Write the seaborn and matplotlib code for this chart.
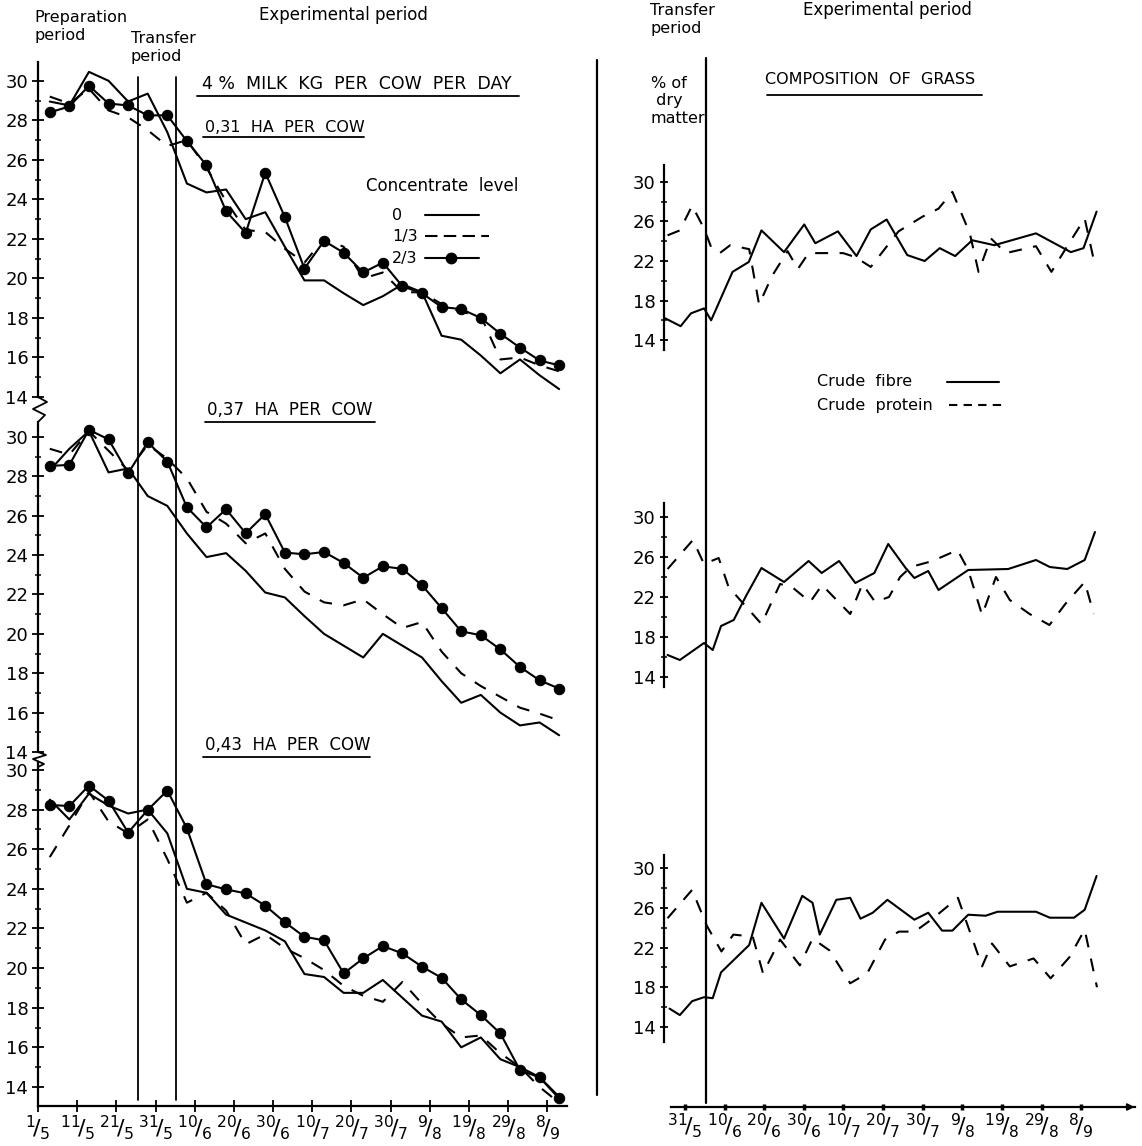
import matplotlib
matplotlib.use("Agg")
import matplotlib.pyplot as plt
from matplotlib.lines import Line2D
from matplotlib.ticker import FixedLocator
import seaborn as sns

# ---------------- data (days counted from 1 May) ----------------
milk_days = [3, 8, 13, 18, 23, 28, 33, 38, 43, 48, 53, 58, 63, 68, 73, 78, 83, 88,
             93, 98, 103, 108, 113, 118, 123, 128, 133]

# 0,31 ha per cow
ha031_conc0 = [28.95, 28.75, 30.45, 30.0, 28.95, 29.35, 27.4, 24.8, 24.35, 24.5, 23.0, 23.35, 21.6,
               19.9, 19.9, 19.25, 18.65, 19.1, 19.7, 19.3, 17.1, 16.9, 16.1, 15.2, 15.9, 15.1, 14.4]
ha031_conc13 = [29.2, 28.85, 29.6, 28.5, 28.15, 27.5, 26.7, 27.0, 25.6, 23.9, 22.45, 22.35, 21.5,
                20.8, 22.0, 21.6, 20.0, 20.3, 19.3, 19.3, 18.7, 18.3, 18.1, 15.9, 16.0, 15.6, 15.3]
ha031_conc23 = [28.4, 28.7, 29.75, 28.85, 28.75, 28.25, 28.25, 26.95, 25.72, 23.4, 22.3, 25.35, 23.1,
                20.5, 21.9, 21.3, 20.3, 20.8, 19.6, 19.25, 18.55, 18.45, 18.0, 17.2, 16.5, 15.85, 15.6]
# 0,37 ha per cow
ha037_conc0 = [28.3, 29.4, 30.3, 28.2, 28.4, 27.0, 26.5, 25.1, 23.9, 24.1, 23.2, 22.1, 21.85,
               20.9, 20.0, 19.4, 18.8, 20.0, 19.4, 18.8, 17.6, 16.5, 16.9, 16.0, 15.35, 15.5, 14.85]
ha037_conc13 = [29.4, 29.1, 30.3, 29.3, 28.3, 29.6, 28.9, 27.9, 26.2, 25.6, 24.6, 25.1, 23.3,
                22.15, 21.6, 21.45, 21.75, 21.0, 20.3, 20.6, 19.1, 18.0, 17.35, 16.8, 16.25, 15.95, 15.6]
ha037_conc23 = [28.53, 28.58, 30.36, 29.88, 28.16, 29.73, 28.75, 26.43, 25.41, 26.33, 25.11, 26.08, 24.13,
                24.04, 24.16, 23.6, 22.85, 23.43, 23.3, 22.47, 21.31, 20.13, 19.93, 19.21, 18.32, 17.64, 17.22]
# 0,43 ha per cow
ha043_conc0 = [28.5, 27.5, 28.8, 28.2, 27.8, 28.0, 26.8, 24.0, 23.8, 22.7, 22.3, 21.9, 21.35,
               19.7, 19.55, 18.75, 18.75, 19.4, 18.5, 17.6, 17.3, 16.0, 16.5, 15.4, 15.0, 14.5, 13.5]
ha043_conc13 = [25.6, 27.2, 28.9, 27.4, 26.8, 27.5, 25.5, 23.3, 23.8, 22.9, 21.2, 21.7, 21.0,
                20.5, 19.9, 19.1, 18.6, 18.3, 19.3, 18.2, 17.2, 16.5, 16.6, 15.7, 15.0, 14.0, 13.2]
ha043_conc23 = [28.23, 28.18, 29.21, 28.45, 26.84, 27.98, 28.96, 27.05, 24.23, 23.97, 23.77, 23.15, 22.31,
                21.58, 21.40, 19.73, 20.49, 21.11, 20.74, 20.07, 19.51, 18.42, 17.63, 16.70, 14.85, 14.48, 13.42]

# composition of grass (% of dry matter)
fibre_a_days = [25.0, 28.9, 31.5, 34.8, 36.6, 42.0, 46.1, 49.3, 55.0, 60.1, 62.9, 68.6, 73.3, 76.9,
                80.9, 86.1, 90.5, 94.3, 98.2, 102.5, 108.1, 118.6, 127.4, 130.6, 133.9]
fibre_a = [16.2, 15.4, 16.7, 17.2, 16.0, 20.9, 21.9, 25.1, 22.9, 25.7, 23.8, 25.0, 22.5, 25.2,
           26.2, 22.6, 22.0, 23.3, 22.5, 24.1, 23.6, 24.8, 22.9, 23.3, 27.0]
protein_a_days = [25.6, 28.7, 31.8, 34.8, 36.6, 38.8, 41.4, 46.2, 48.7, 52.0, 55.9, 58.5, 61.2, 69.9,
                  73.0, 76.9, 83.9, 90.0, 94.0, 97.5, 101.9, 104.1, 107.2, 111.0, 118.6, 122.5,
                  126.5, 130.9, 133.2]
protein_a = [24.6, 25.1, 27.6, 25.3, 23.4, 22.8, 23.6, 23.2, 17.6, 20.5, 23.0, 21.2, 22.8, 22.8,
             22.4, 21.4, 25.0, 26.5, 27.3, 29.0, 24.8, 20.9, 24.3, 22.8, 23.5, 20.9, 23.5, 26.3, 22.1]

fibre_b_days = [25.6, 28.7, 34.8, 37.0, 39.1, 42.3, 45.4, 49.3, 55.0, 61.2, 64.5, 68.9, 73.0, 77.8,
                81.3, 85.7, 87.9, 91.4, 94.0, 101.5, 111.6, 118.6, 122.1, 126.5, 130.9, 133.5]
fibre_b = [16.2, 15.7, 17.4, 16.7, 19.1, 19.7, 22.1, 24.9, 23.5, 25.6, 24.4, 25.6, 23.4, 24.4,
           27.3, 24.9, 23.9, 24.6, 22.7, 24.7, 24.8, 25.7, 25.0, 24.8, 25.7, 28.5]
protein_b_days = [25.6, 32.0, 34.8, 38.5, 41.0, 45.5, 49.3, 54.0, 57.0, 61.6, 64.6, 71.7, 74.8, 78.0,
                  81.5, 84.3, 87.0, 92.5, 98.8, 101.5, 105.0, 108.5, 112.0, 117.0, 122.0, 126.0,
                  130.9, 133.2]
protein_b = [24.8, 27.7, 25.3, 25.9, 23.0, 21.0, 19.3, 23.3, 23.0, 21.5, 23.2, 20.3, 23.3, 21.5,
             22.0, 24.0, 25.0, 25.6, 26.7, 24.7, 20.2, 24.0, 21.7, 20.3, 19.2, 21.3, 23.5, 20.3]

fibre_c_days = [26.1, 28.7, 31.8, 34.8, 37.0, 39.1, 46.2, 49.3, 55.0, 59.6, 62.2, 64.0, 68.2, 71.7,
                74.3, 77.4, 81.1, 87.9, 91.4, 94.9, 97.5, 101.5, 105.9, 108.9, 118.6, 122.1, 128.2,
                130.9, 133.9]
fibre_c = [15.85, 15.2, 16.6, 17.0, 16.9, 19.5, 22.25, 26.5, 22.9, 27.2, 26.5, 23.3, 26.8, 27.0,
           24.9, 25.5, 26.8, 24.8, 25.5, 23.7, 23.7, 25.3, 25.2, 25.6, 25.6, 25.0, 25.0, 25.8, 29.2]
protein_c_days = [25.6, 31.8, 35.5, 39.2, 42.2, 47.1, 49.7, 54.0, 59.0, 62.2, 66.5, 71.7, 76.0, 80.5,
                  84.0, 88.0, 92.5, 98.9, 105.0, 107.5, 112.0, 118.0, 122.3, 127.0, 130.9, 134.0]
protein_c = [24.95, 27.8, 24.2, 21.6, 23.3, 23.1, 19.4, 22.8, 20.2, 22.9, 21.7, 18.4, 19.4, 22.8,
             23.6, 23.6, 24.9, 27.0, 20.1, 22.4, 20.1, 20.9, 18.9, 21.0, 23.8, 18.0]

left_tick_days = [0, 10, 20, 30, 40, 50, 60, 70, 80, 90, 100, 110, 120, 130]
left_tick_labels = ["1/5", "11/5", "21/5", "31/5", "10/6", "20/6", "30/6", "10/7", "20/7",
                    "30/7", "9/8", "19/8", "29/8", "8/9"]
right_tick_days = [30, 40, 50, 60, 70, 80, 90, 100, 110, 120, 130]
right_tick_labels = ["31/5", "10/6", "20/6", "30/6", "10/7", "20/7", "30/7", "9/8", "19/8",
                     "29/8", "8/9"]
milk_yticks = [14, 16, 18, 20, 22, 24, 26, 28, 30]
grass_yticks = [14, 18, 22, 26, 30]
transfer_start_day, transfer_end_day = 25.5, 35.2

# ---------------- style ----------------
sns.set_theme(style="white")
plt.rcParams["font.family"] = ["DejaVu Sans"]
plt.rcParams["mathtext.fontset"] = "dejavusans"
plt.rcParams["mathtext.default"] = "regular"
plt.rcParams["axes.edgecolor"] = "black"
plt.rcParams["axes.linewidth"] = 1.6
plt.rcParams["xtick.color"] = "black"
plt.rcParams["ytick.color"] = "black"
plt.rcParams["text.color"] = "black"

W, H = 1142, 1146
fig = plt.figure(figsize=(W / 100, H / 100), dpi=100)
fig.patch.set_facecolor("white")


def box(x0, y0, x1, y1):
    return [x0 / W, 1 - y1 / H, (x1 - x0) / W, (y1 - y0) / H]


ax_top = fig.add_axes(box(38, 62, 567, 397))
ax_mid = fig.add_axes(box(38, 422, 567, 752))
ax_bot = fig.add_axes(box(38, 762, 567, 1106))
rax_top = fig.add_axes(box(664, 165, 1135, 350))
rax_mid = fig.add_axes(box(664, 503, 1135, 687))
rax_bot = fig.add_axes(box(664, 855, 1135, 1107))

LW = 1.5
DASH = (0, (6.2, 5.5))
MS = 7.5


def solid(ax, x, y):
    sns.lineplot(x=x, y=y, ax=ax, color="black", linewidth=LW, errorbar=None, sort=False)


def dashed(ax, x, y):
    sns.lineplot(x=x, y=y, ax=ax, color="black", linewidth=LW, linestyle=DASH,
                 errorbar=None, sort=False)


def dotted(ax, x, y):
    sns.lineplot(x=x, y=y, ax=ax, color="black", linewidth=LW, marker="o", markersize=MS,
                 markeredgecolor="black", markerfacecolor="black", errorbar=None, sort=False)


for ax, c0, c13, c23 in [(ax_top, ha031_conc0, ha031_conc13, ha031_conc23),
                         (ax_mid, ha037_conc0, ha037_conc13, ha037_conc23),
                         (ax_bot, ha043_conc0, ha043_conc13, ha043_conc23)]:
    solid(ax, milk_days, c0)
    dashed(ax, milk_days, c13)
    dotted(ax, milk_days, c23)

for ax, fd, fv, pd_, pv in [(rax_top, fibre_a_days, fibre_a, protein_a_days, protein_a),
                            (rax_mid, fibre_b_days, fibre_b, protein_b_days, protein_b),
                            (rax_bot, fibre_c_days, fibre_c, protein_c_days, protein_c)]:
    solid(ax, fd, fv)
    dashed(ax, pd_, pv)


def frac(lbl):
    a, b = lbl.split("/")
    return r"$^{%s}\!/_{%s}$" % (a, b)


left_ylims = [(14, 30.95), (14, 30.76), (13.04, 30.4)]
for ax, yl in zip([ax_top, ax_mid, ax_bot], left_ylims):
    ax.set_xlim(0, 135)
    ax.set_ylim(*yl)
    ax.set_xlabel("")
    ax.set_ylabel("")
    ax.patch.set_alpha(0)
    ax.yaxis.set_major_locator(FixedLocator(milk_yticks))
    ax.yaxis.set_minor_locator(FixedLocator(list(range(15, 31, 2))))
    ax.set_yticklabels([str(v) for v in milk_yticks])
    ax.tick_params(axis="y", which="major", direction="inout", length=8, width=1.3,
                   labelsize=13, pad=3, left=True)
    ax.tick_params(axis="y", which="minor", direction="inout", length=5, width=1.1, left=True)
    for s in ["top", "right"]:
        ax.spines[s].set_visible(False)
    if ax is not ax_bot:
        ax.spines["bottom"].set_visible(False)
        ax.set_xticks([])

ax_bot.set_xticks(left_tick_days)
ax_bot.set_xticklabels([frac(t) for t in left_tick_labels])
ax_bot.tick_params(axis="x", direction="inout", length=8, width=1.3, labelsize=16, pad=1,
                   bottom=True)

right_ylims = [(12.99, 31.72), (13.0, 31.4), (5.95, 31.31)]
for ax, yl in zip([rax_top, rax_mid, rax_bot], right_ylims):
    ax.set_xlim(24.7, 143.6)
    ax.set_ylim(*yl)
    ax.set_xlabel("")
    ax.set_ylabel("")
    ax.patch.set_alpha(0)
    ax.yaxis.set_major_locator(FixedLocator(grass_yticks))
    ax.yaxis.set_minor_locator(FixedLocator([16, 20, 24, 28]))
    ax.set_yticklabels([str(v) for v in grass_yticks])
    ax.tick_params(axis="y", which="major", direction="inout", length=6, width=1.3,
                   labelsize=13, pad=3, left=True)
    ax.tick_params(axis="y", which="minor", direction="inout", length=4, width=1.1, left=True)
    for s in ["top", "right"]:
        ax.spines[s].set_visible(False)
    if ax is not rax_bot:
        ax.spines["bottom"].set_visible(False)
        ax.set_xticks([])

rax_bot.spines["left"].set_bounds(12.5, 31.31)
rax_bot.spines["bottom"].set_bounds(26.5, 143.6)
rax_bot.set_xticks(right_tick_days)
rax_bot.set_xticklabels([frac(t) for t in right_tick_labels])
rax_bot.tick_params(axis="x", direction="inout", length=4, width=2.5, labelsize=16, pad=1,
                    bottom=True)
rax_bot.annotate("", xy=(1.005, 0), xytext=(0.96, 0), xycoords="axes fraction",
                 arrowprops=dict(arrowstyle="-|>", color="black", lw=1.4, mutation_scale=10))


# ---------------- decorations in figure pixels ----------------
def T(px, py, s, **kw):
    kw.setdefault("fontsize", 11.5)
    kw.setdefault("va", "top")
    kw.setdefault("ha", "left")
    fig.text(px / W, 1 - py / H, s, **kw)


def L(xs, ys, **kw):
    kw.setdefault("color", "black")
    kw.setdefault("linewidth", 1.3)
    fig.add_artist(Line2D([x / W for x in xs], [1 - y / H for y in ys],
                          transform=fig.transFigure, **kw))


def fig_x(ax, day):
    return fig.transFigure.inverted().transform(ax.transData.transform((day, 20)))[0] * W


# period boundary lines
for d in [transfer_start_day, transfer_end_day]:
    xx = fig_x(ax_bot, d)
    L([xx, xx], [77, 1100], linewidth=1.3)
xx = fig_x(rax_bot, transfer_end_day)
L([xx, xx], [58, 1103], linewidth=1.6)
# middle divider
L([597, 597], [60, 1095], linewidth=1.6)

# axis breaks on the left
L([38, 47, 33, 45, 38], [397, 402, 409, 415, 422], linewidth=1.3)
L([38, 46, 33, 44, 38], [752, 755, 759, 764, 767], linewidth=1.3)

# texts - left
T(34, 10, "Preparation\nperiod", linespacing=1.25)
T(131, 31, "Transfer\nperiod", linespacing=1.25)
T(259, 6, "Experimental period", fontsize=12)
T(202, 75, "4 %  MILK  KG  PER  COW  PER  DAY", fontsize=12.5)
L([197, 519], [96, 96])
T(205, 120, "0,31  HA  PER  COW")
L([203, 364], [137, 137])
T(366, 177, "Concentrate  level", fontsize=12)
T(392, 215, "0", va="center")
L([425, 479], [215, 215], linewidth=LW)
T(392, 236, "1/3", va="center")
fig.add_artist(Line2D([425 / W, 489 / W], [1 - 236 / H, 1 - 236 / H], transform=fig.transFigure,
                      color="black", linewidth=LW, linestyle=(0, (6, 3))))
T(392, 258, "2/3", va="center")
fig.add_artist(Line2D([425 / W, 451 / W, 479 / W], [1 - 258 / H] * 3, transform=fig.transFigure,
                      color="black", linewidth=LW, marker="o", markersize=MS, markevery=[1]))
T(207, 401, "0,37  HA  PER  COW", fontsize=12)
L([205, 375], [422, 422])
T(205, 736, "0,43  HA  PER  COW", fontsize=12)
L([203, 370], [757, 757])

# texts - right
T(650, 3, "Transfer\nperiod", linespacing=1.25)
T(803, 1, "Experimental period", fontsize=12)
T(765, 72, "COMPOSITION  OF  GRASS")
L([767, 982], [95, 95])
T(651, 76, "% of\n dry\nmatter", linespacing=1.2)
T(817, 382, "Crude  fibre", va="center")
L([947, 999], [382, 382], linewidth=LW)
T(817, 405, "Crude  protein", va="center")
fig.add_artist(Line2D([949 / W, 1003 / W], [1 - 405 / H] * 2, transform=fig.transFigure,
                      color="black", linewidth=LW, linestyle=(0, (4, 3))))

fig.savefig("out.png", dpi=100, facecolor="white")
